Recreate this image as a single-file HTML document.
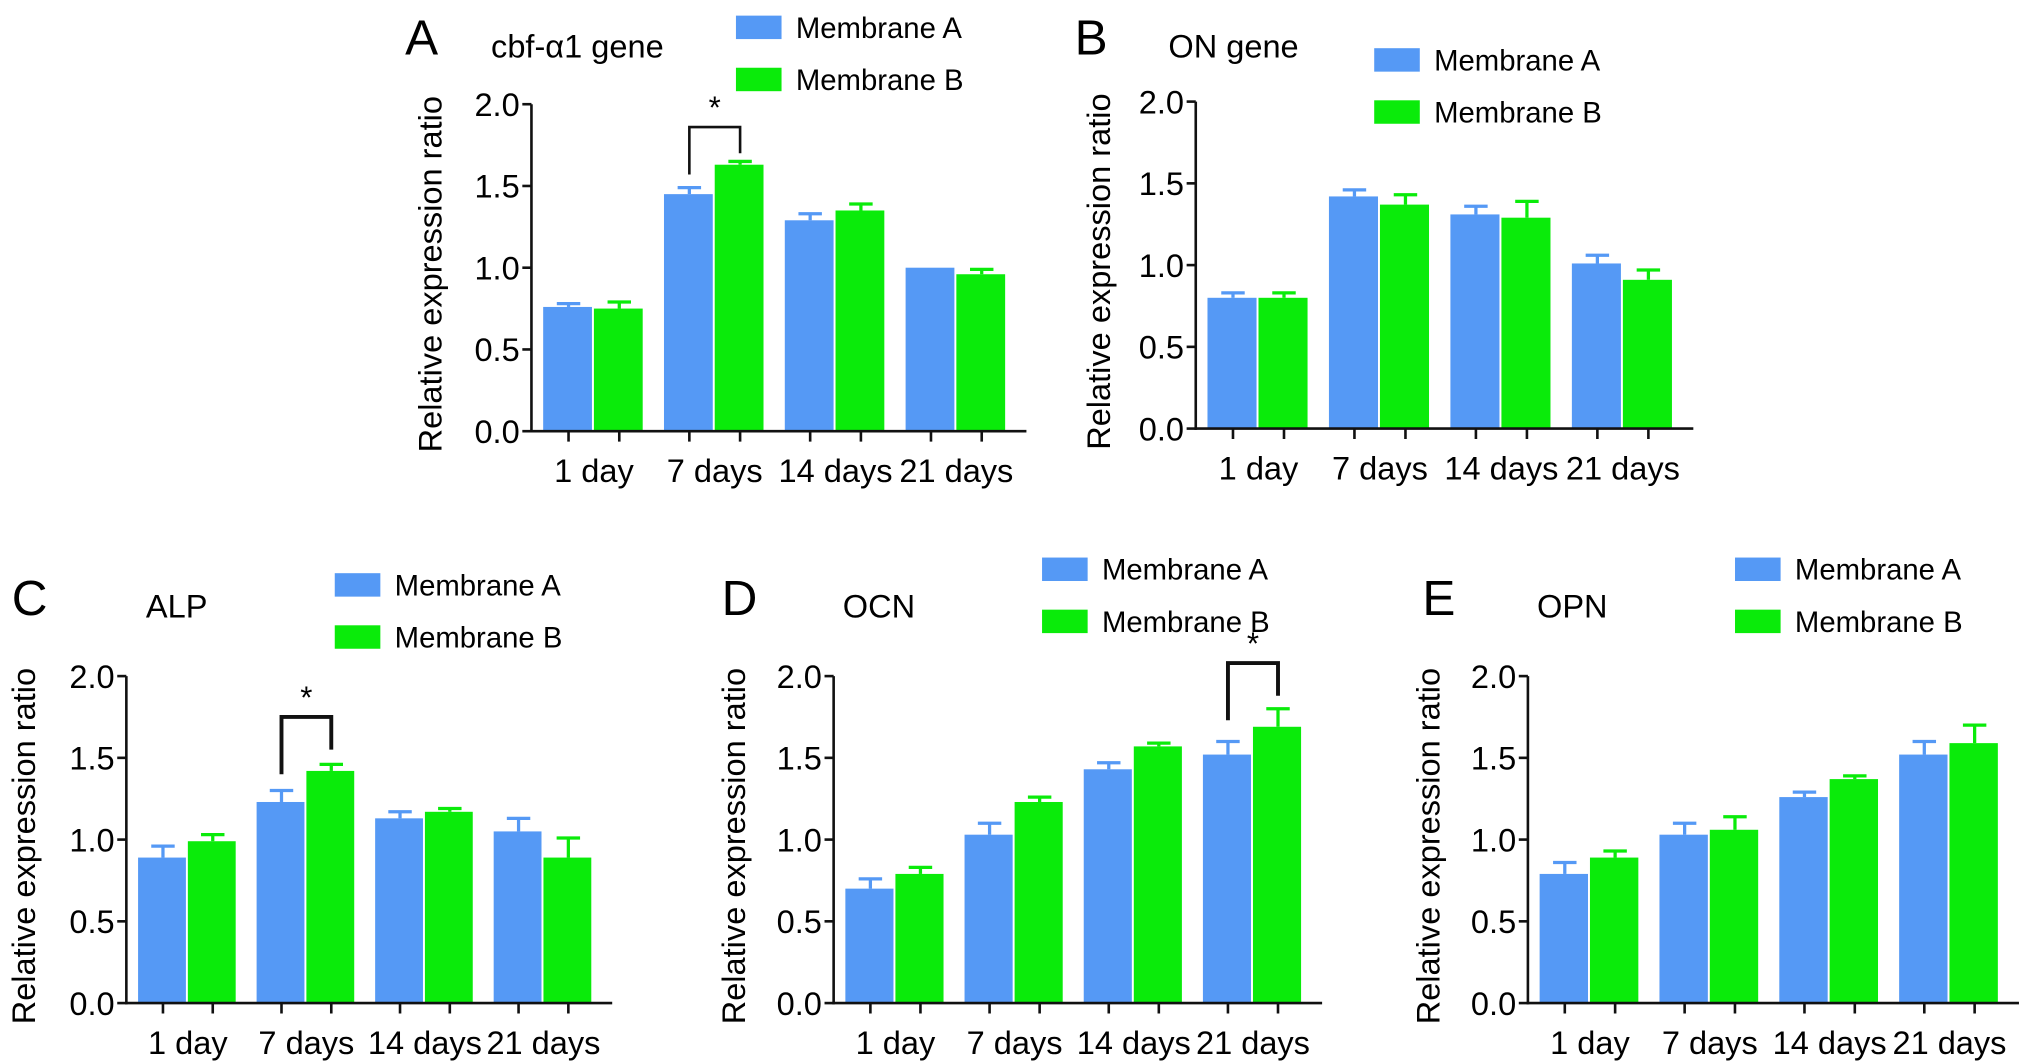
<!DOCTYPE html>
<html><head><meta charset="utf-8"><style>
html,body{margin:0;padding:0;background:#fff;}
svg{display:block;font-family:"Liberation Sans",Arial,sans-serif;}
</style></head><body>
<svg id="fig" width="2032" height="1063" viewBox="0 0 1560 816" preserveAspectRatio="none" xmlns="http://www.w3.org/2000/svg"></svg>
<script>
const categories = ["1 day","7 days","14 days","21 days"];
const yTicks = [0.0,0.5,1.0,1.5,2.0];
const yTickLabels = ["0.0","0.5","1.0","1.5","2.0"];
const seriesNames = ["Membrane A","Membrane B"];
const aA = [0.76,1.45,1.29,1.00], aB = [0.75,1.63,1.35,0.96];
const aAe = [0.02,0.04,0.04,0.0], aBe = [0.04,0.02,0.04,0.03];
const bA = [0.80,1.42,1.31,1.01], bB = [0.80,1.37,1.29,0.91];
const bAe = [0.03,0.04,0.05,0.05], bBe = [0.03,0.06,0.10,0.06];
const cA = [0.89,1.23,1.13,1.05], cB = [0.99,1.42,1.17,0.89];
const cAe = [0.07,0.07,0.04,0.08], cBe = [0.04,0.04,0.02,0.12];
const dA = [0.70,1.03,1.43,1.52], dB = [0.79,1.23,1.57,1.69];
const dAe = [0.06,0.07,0.04,0.08], dBe = [0.04,0.03,0.02,0.11];
const eA = [0.79,1.03,1.26,1.52], eB = [0.89,1.06,1.37,1.59];
const eAe = [0.07,0.07,0.03,0.08], eBe = [0.04,0.08,0.02,0.11];

const NS="http://www.w3.org/2000/svg";
const svg=document.getElementById('fig');
const BLUE="#5599f5", GREEN="#0aeb0a";
function mk(tag,attrs,parent,text){const e=document.createElementNS(NS,tag);for(const k in attrs)e.setAttribute(k,attrs[k]);if(text!==undefined)e.textContent=text;(parent||svg).appendChild(e);return e;}

function panel(p){
  const g=mk('g',{});
  
  
  const y=v=>p.y0-(v/2)*(p.y0-p.y2);
  const pitch=(p.x1-p.x0-9)/4, bw=pitch*0.42;
  const gx=i=>p.x0+9+i*pitch;
  const L=mk('text',{x:p.lx,y:p.ly,'font-size':38},g,p.letter);
  
  const T=mk('text',{x:p.tx,y:p.ly+2,'font-size':25},g,p.title);
  
  [BLUE,GREEN].forEach((c,i)=>{
    const r=mk('rect',{x:p.legx,y:p.legy+i*40,width:35,height:18,fill:c},g);
    
    const t=mk('text',{x:p.legx+46,y:p.legy+i*40+17,'font-size':22.5},g,seriesNames[i]);
    
  });
  [[p.A,p.Ae,BLUE,0],[p.B,p.Be,GREEN,1]].forEach(([vals,errs,c,s])=>{
    vals.forEach((v,i)=>{
      const bx=gx(i)+s*bw, top=y(v);
      if(errs[i]>0){
        const et=y(v+errs[i]);
        const el=mk('line',{x1:bx+bw/2,x2:bx+bw/2,y1:top,y2:et,stroke:c,'stroke-width':2.5},g);
        
        mk('line',{x1:bx+bw/2-9,x2:bx+bw/2+9,y1:et,y2:et,stroke:c,'stroke-width':2.5},g);
      }
      const r=mk('rect',{x:bx,y:top,width:bw-1.5,height:p.y0-top,fill:c},g);
      
      
    });
  });
  const ax=mk('line',{x1:p.x0,x2:p.x0,y1:p.y2,y2:p.y0+1,stroke:'#111','stroke-width':2},g);
  
  const xx=mk('line',{x1:p.x0-1,x2:p.x1,y1:p.y0,y2:p.y0,stroke:'#111','stroke-width':2},g);
  
  yTicks.forEach((v,i)=>{
    mk('line',{x1:p.x0-7,x2:p.x0,y1:y(v),y2:y(v),stroke:'#111','stroke-width':2},g);
    const t=mk('text',{x:p.x0-9,y:y(v)+9,'font-size':25,'text-anchor':'end'},g,yTickLabels[i]);
    
  });
  categories.forEach((c,i)=>{
    [0,1].forEach(s=>mk('line',{x1:gx(i)+s*bw+bw/2,x2:gx(i)+s*bw+bw/2,y1:p.y0,y2:p.y0+8,stroke:'#111','stroke-width':2},g));
    const t=mk('text',{x:gx(i)+bw,y:p.y0+39,'font-size':25,'text-anchor':'middle'},g,c);
    
  });
  const yl=mk('text',{x:0,y:0,'font-size':25,'text-anchor':'middle',transform:`translate(${p.ylx},${(p.y0+p.y2)/2+5}) rotate(-90)`},g,'Relative expression ratio');
  
  if(p.sig!==undefined){
    const i=p.sig, xa=gx(i)+bw/2, xb=gx(i)+bw*1.5;
    const br=mk('polyline',{points:`${xa},${y(p.br[0])} ${xa},${y(p.br[2])} ${xb},${y(p.br[2])} ${xb},${y(p.br[1])}`,fill:'none',stroke:'#111','stroke-width':p.bw||2},g);
    
    const st=mk('text',{x:(xa+xb)/2,y:y(p.br[2])-7,'font-size':24,'text-anchor':'middle'},g,'*');
    
  }
}
panel({letter:'A',title:'cbf-\u03b11 gene',lx:311,ly:42,tx:377,legx:565,legy:12,x0:408,x1:788,y0:331,y2:80,ylx:339,A:aA,B:aB,Ae:aAe,Be:aBe,sig:1,br:[1.57,1.70,1.86]});
panel({letter:'B',title:'ON gene',lx:825,ly:42,tx:897,legx:1055,legy:37,x0:918,x1:1300,y0:329,y2:78,ylx:852,A:bA,B:bB,Ae:bAe,Be:bBe});
panel({letter:'C',title:'ALP',lx:9,ly:472,tx:112,legx:257,legy:440,x0:97,x1:470,y0:770,y2:519,ylx:27,A:cA,B:cB,Ae:cAe,Be:cBe,sig:1,br:[1.4,1.55,1.75],bw:3});
panel({letter:'D',title:'OCN',lx:554,ly:472,tx:647,legx:800,legy:428,x0:640,x1:1015,y0:770,y2:519,ylx:572,A:dA,B:dB,Ae:dAe,Be:dBe,sig:3,br:[1.73,1.88,2.08],bw:3});
panel({letter:'E',title:'OPN',lx:1092,ly:472,tx:1180,legx:1332,legy:428,x0:1173,x1:1550,y0:770,y2:519,ylx:1105,A:eA,B:eB,Ae:eAe,Be:eBe});
</script>
</body></html>
